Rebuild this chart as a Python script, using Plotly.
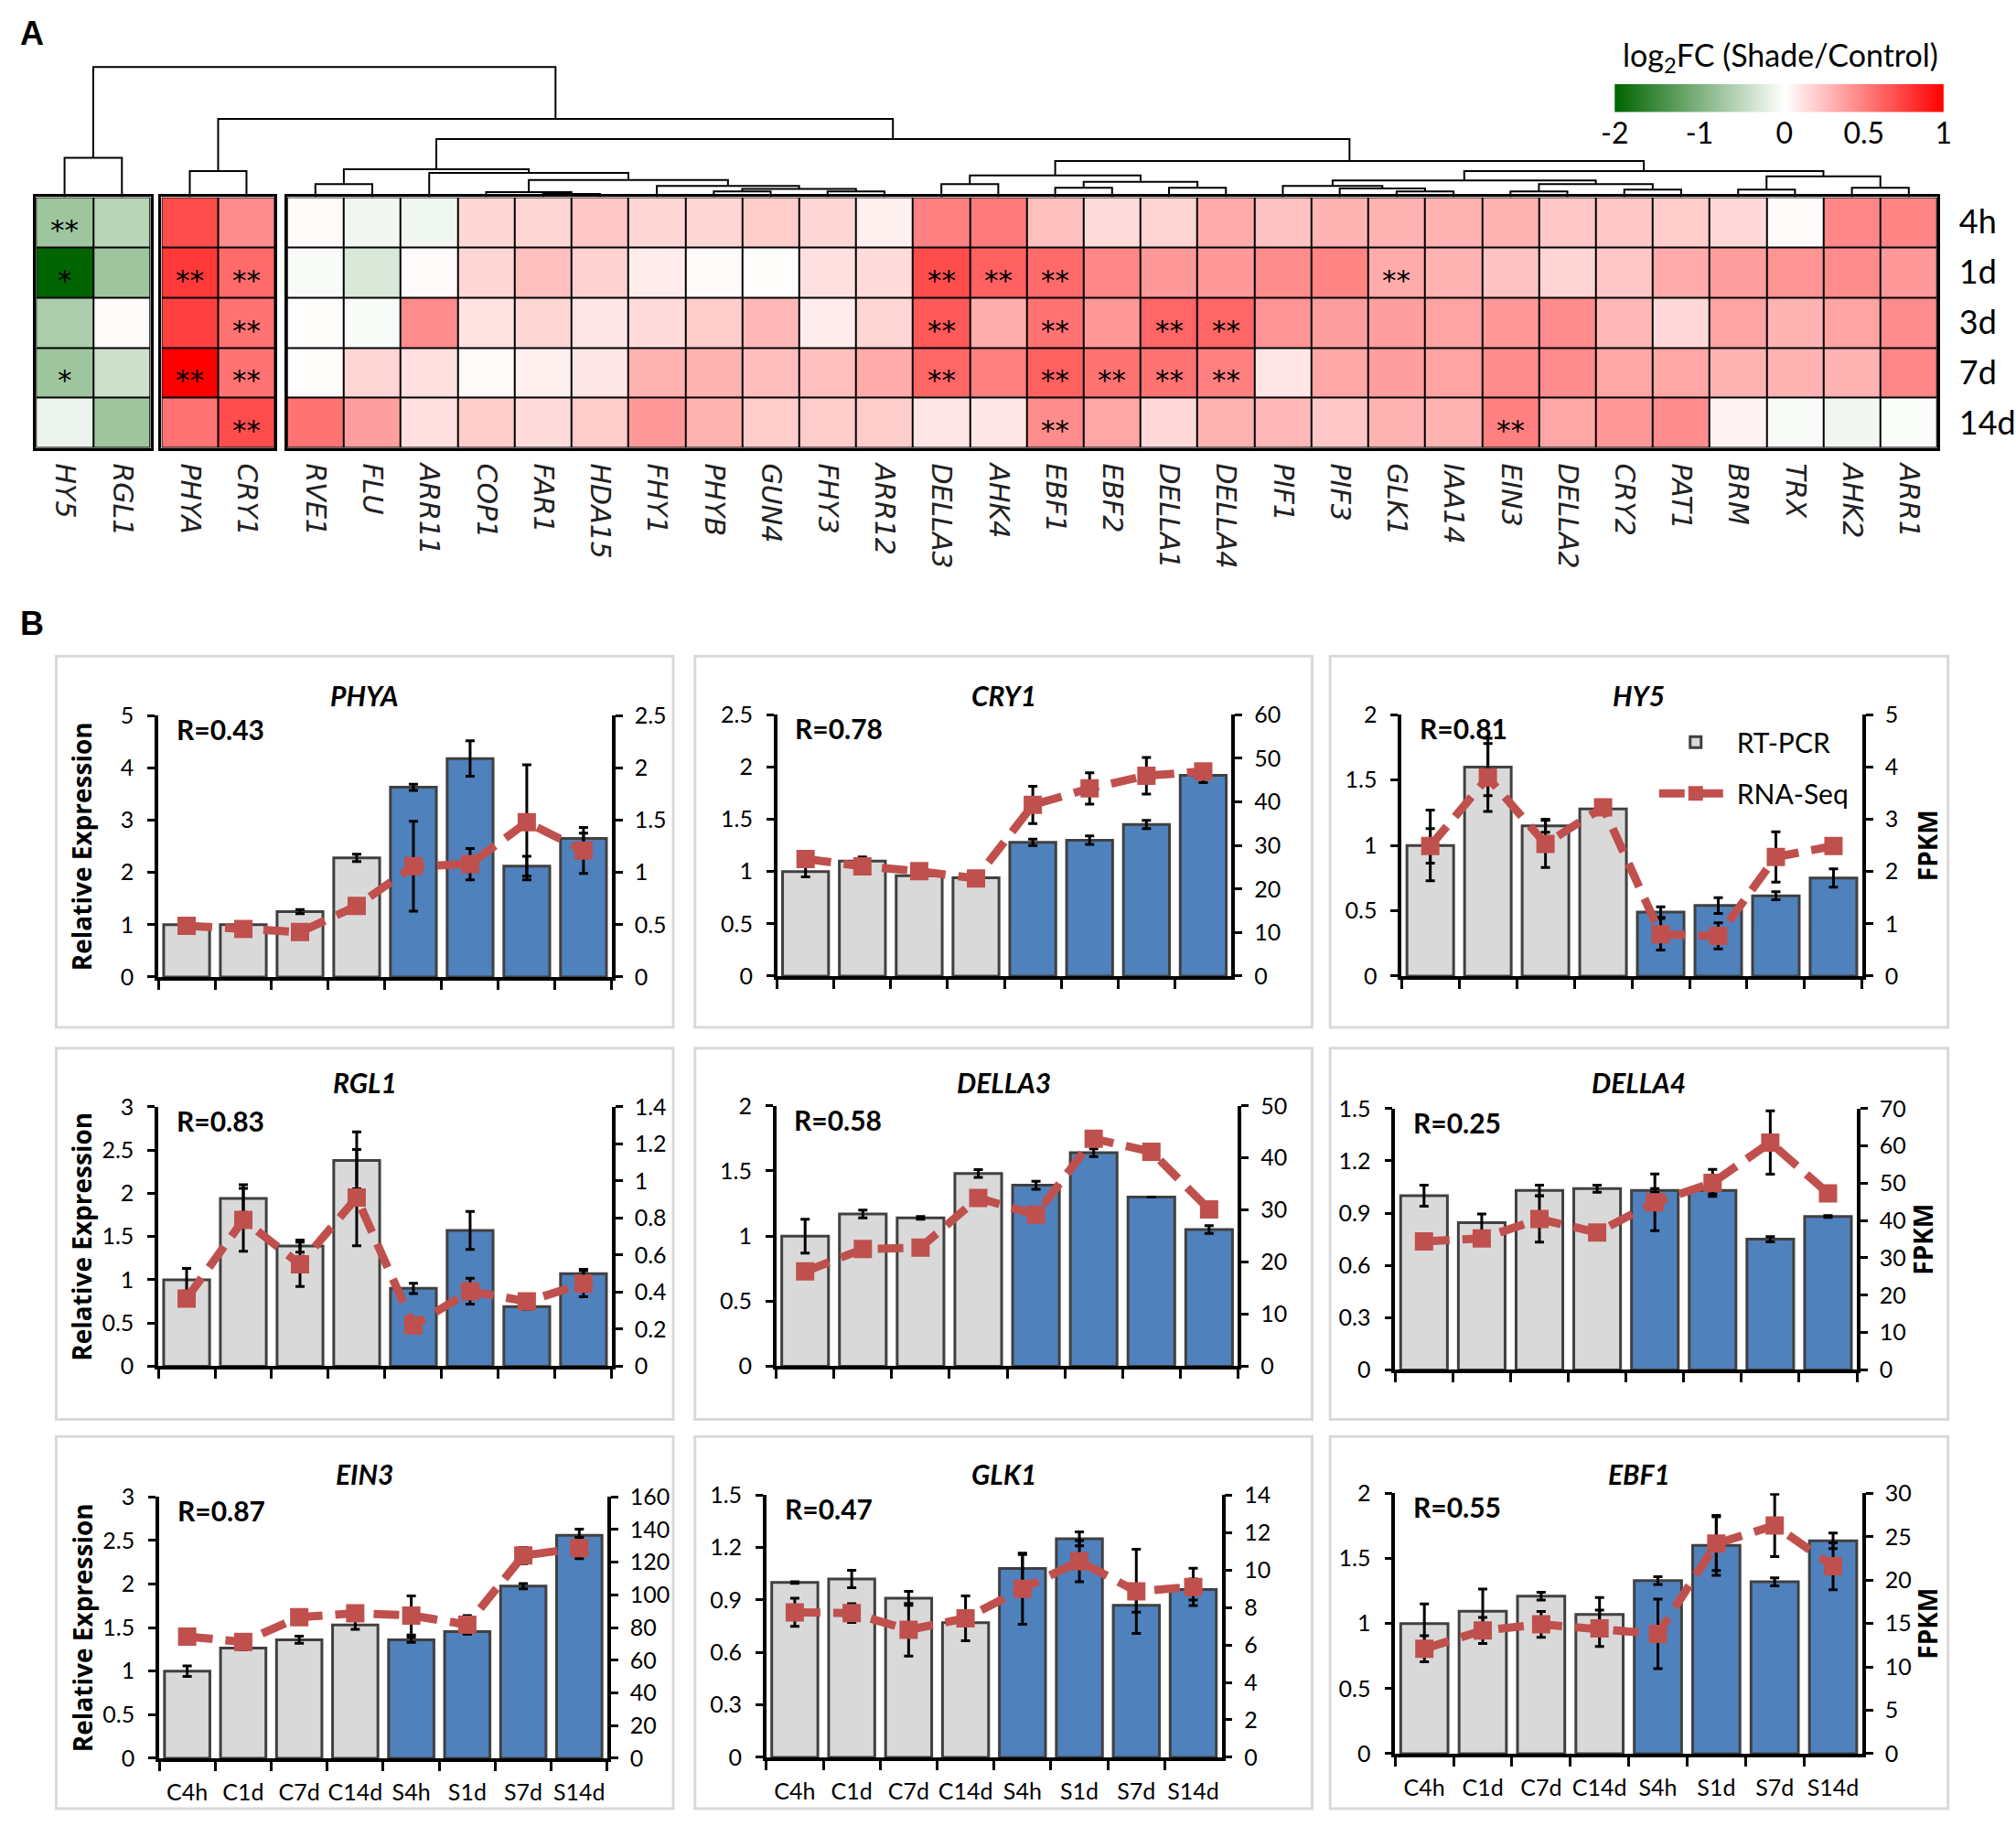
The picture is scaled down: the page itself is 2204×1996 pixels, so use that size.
import numpy as np
import plotly.graph_objects as go

W, H = 2204, 1996
def fx(p): return p / W
def fy(p): return 1 - p / H

# ---------------- Panel A data ----------------
genes = ["HY5", "RGL1", "PHYA", "CRY1", "RVE1", "FLU", "ARR11", "COP1", "FAR1", "HDA15", "FHY1",
         "PHYB", "GUN4", "FHY3", "ARR12", "DELLA3", "AHK4", "EBF1", "EBF2", "DELLA1", "DELLA4",
         "PIF1", "PIF3", "GLK1", "IAA14", "EIN3", "DELLA2", "CRY2", "PAT1", "BRM", "TRX", "AHK2", "ARR1"]
times = ["4h", "1d", "3d", "7d", "14d"]
block_sizes = [2, 2, 29]

lfc_4h = [-0.75, -0.55, 0.70, 0.45, 0.02, -0.10, -0.12, 0.16, 0.16, 0.22, 0.16, 0.16, 0.20, 0.16, 0.06,
          0.50, 0.52, 0.25, 0.14, 0.17, 0.33, 0.24, 0.30, 0.30, 0.30, 0.30, 0.22, 0.22, 0.20, 0.15, 0.02, 0.47, 0.48]
lfc_1d = [-2.00, -0.75, 0.78, 0.58, -0.05, -0.30, 0.02, 0.16, 0.25, 0.18, 0.07, 0.02, 0.01, 0.12, 0.14,
          0.70, 0.62, 0.58, 0.47, 0.40, 0.40, 0.45, 0.48, 0.33, 0.30, 0.24, 0.17, 0.22, 0.33, 0.38, 0.42, 0.45, 0.40]
lfc_3d = [-0.65, 0.02, 0.75, 0.55, 0.01, -0.05, 0.45, 0.11, 0.16, 0.10, 0.14, 0.20, 0.28, 0.07, 0.16,
          0.65, 0.32, 0.55, 0.40, 0.60, 0.60, 0.42, 0.38, 0.38, 0.36, 0.40, 0.45, 0.28, 0.15, 0.36, 0.30, 0.36, 0.45]
lfc_7d = [-0.75, -0.40, 1.00, 0.55, 0.01, 0.16, 0.12, 0.02, 0.06, 0.10, 0.30, 0.30, 0.26, 0.25, 0.33,
          0.60, 0.50, 0.62, 0.55, 0.55, 0.50, 0.10, 0.35, 0.38, 0.36, 0.45, 0.45, 0.35, 0.35, 0.30, 0.30, 0.30, 0.47]
lfc_14d = [-0.15, -0.75, 0.55, 0.70, 0.55, 0.38, 0.12, 0.20, 0.14, 0.20, 0.40, 0.30, 0.20, 0.20, 0.20,
           0.10, 0.10, 0.45, 0.35, 0.15, 0.30, 0.28, 0.22, 0.30, 0.30, 0.50, 0.35, 0.40, 0.45, 0.05, -0.05, -0.10, -0.03]

sig_marks = {
    "4h": {"HY5": "**"},
    "1d": {"HY5": "*", "PHYA": "**", "CRY1": "**", "DELLA3": "**", "AHK4": "**", "EBF1": "**", "GLK1": "**"},
    "3d": {"CRY1": "**", "DELLA3": "**", "EBF1": "**", "DELLA1": "**", "DELLA4": "**"},
    "7d": {"HY5": "*", "PHYA": "**", "CRY1": "**", "DELLA3": "**", "EBF1": "**", "EBF2": "**",
           "DELLA1": "**", "DELLA4": "**"},
    "14d": {"CRY1": "**", "EBF1": "**", "EIN3": "**"},
}

# dendrogram merges: (node, left child, right child, height)
dendro_merges = [
    ("n_hr", "HY5", "RGL1", 43.5),
    ("n_pc", "PHYA", "CRY1", 28.9),
    ("n_rf", "RVE1", "FLU", 14.3),
    ("n_fh", "FAR1", "HDA15", 3.5),
    ("n_cfh", "COP1", "n_fh", 5.5),
    ("n_pg", "PHYB", "GUN4", 6.4),
    ("n_fa", "FHY3", "ARR12", 6.4),
    ("n_pgfa", "n_pg", "n_fa", 9.1),
    ("n_f1", "FHY1", "n_pgfa", 12.3),
    ("n_cf", "n_cfh", "n_f1", 19.0),
    ("n_a11", "ARR11", "n_cf", 26.9),
    ("n_left", "n_rf", "n_a11", 30.9),
    ("n_da", "DELLA3", "AHK4", 14.3),
    ("n_ee", "EBF1", "EBF2", 10.3),
    ("n_dd", "DELLA1", "DELLA4", 10.3),
    ("n_eedd", "n_ee", "n_dd", 17.0),
    ("n_dael", "n_da", "n_eedd", 24.1),
    ("n_gi", "GLK1", "IAA14", 6.4),
    ("n_p3", "PIF3", "n_gi", 9.5),
    ("n_p1", "PIF1", "n_p3", 12.3),
    ("n_ed", "EIN3", "DELLA2", 6.4),
    ("n_cp", "CRY2", "PAT1", 8.3),
    ("n_edcp", "n_ed", "n_cp", 14.3),
    ("n_pifs", "n_p1", "n_edcp", 18.6),
    ("n_bt", "BRM", "TRX", 8.3),
    ("n_aa", "AHK2", "ARR1", 10.3),
    ("n_btaa", "n_bt", "n_aa", 23.0),
    ("n_rest", "n_pifs", "n_btaa", 28.9),
    ("n_right", "n_dael", "n_rest", 40.0),
    ("n_b3", "n_left", "n_right", 64.5),
    ("n_23", "n_pc", "n_b3", 86.7),
    ("n_root", "n_hr", "n_23", 144.5),
]

cbar_ticks = [-2, -1, 0, 0.5, 1]

# ---------------- Panel B data ----------------
samples = ["C4h", "C1d", "C7d", "C14d", "S4h", "S1d", "S7d", "S14d"]

phya_rt = [1.0, 1.0, 1.25, 2.28, 3.63, 4.18, 2.12, 2.65]
phya_rt_err = [0.02, 0.05, 0.04, 0.07, 0.06, 0.34, 0.19, 0.10]
phya_seq = [0.49, 0.46, 0.43, 0.68, 1.06, 1.08, 1.48, 1.21]
phya_seq_err = [0.02, 0.03, 0.02, 0.02, 0.43, 0.15, 0.55, 0.22]

cry1_rt = [1.0, 1.10, 0.96, 0.94, 1.28, 1.30, 1.45, 1.92]
cry1_rt_err = [0.05, 0.04, 0.0, 0.0, 0.03, 0.04, 0.04, 0.07]
cry1_seq = [26.9, 25.2, 24.1, 22.4, 39.3, 43.1, 46.0, 47.0]
cry1_seq_err = [0.8, 1.0, 0.5, 0.5, 4.3, 3.6, 4.2, 1.0]

hy5_rt = [1.0, 1.60, 1.15, 1.28, 0.49, 0.54, 0.615, 0.75]
hy5_rt_err = [0.27, 0.22, 0.05, 0.02, 0.04, 0.06, 0.03, 0.07]
hy5_seq = [2.49, 3.80, 2.53, 3.23, 0.80, 0.77, 2.28, 2.49]
hy5_seq_err = [0.33, 0.65, 0.45, 0.10, 0.30, 0.25, 0.48, 0.12]

rgl1_rt = [1.0, 1.94, 1.39, 2.38, 0.90, 1.57, 0.69, 1.07]
rgl1_rt_err = [0.13, 0.16, 0.07, 0.33, 0.06, 0.22, 0.03, 0.05]
rgl1_seq = [0.365, 0.79, 0.55, 0.91, 0.22, 0.405, 0.35, 0.445]
rgl1_seq_err = [0.02, 0.17, 0.12, 0.26, 0.0, 0.07, 0.02, 0.07]

della3_rt = [1.0, 1.17, 1.14, 1.48, 1.39, 1.64, 1.30, 1.05]
della3_rt_err = [0.13, 0.03, 0.01, 0.03, 0.03, 0.03, 0.0, 0.03]
della3_seq = [18.2, 22.5, 22.8, 32.3, 29.1, 43.7, 41.2, 30.1]
della3_seq_err = [0, 0, 0, 0, 0, 0, 0, 0]

della4_rt = [1.0, 0.845, 1.03, 1.04, 1.03, 1.03, 0.75, 0.88]
della4_rt_err = [0.06, 0.05, 0.03, 0.02, 0.01, 0.02, 0.015, 0.005]
della4_seq = [34.4, 35.2, 40.4, 36.8, 44.9, 50.1, 60.9, 47.3]
della4_seq_err = [0.5, 0.5, 6.2, 0.0, 7.6, 3.6, 8.5, 0.0]

ein3_rt = [1.0, 1.265, 1.36, 1.53, 1.36, 1.455, 1.975, 2.56]
ein3_rt_err = [0.06, 0.02, 0.04, 0.05, 0.03, 0.03, 0.03, 0.07]
ein3_seq = [74.5, 71.2, 86.4, 88.8, 87.4, 81.8, 124.1, 128.7]
ein3_seq_err = [0.5, 1.5, 1.0, 1.0, 12.0, 5.5, 5.0, 6.5]

glk1_rt = [1.0, 1.02, 0.91, 0.77, 1.08, 1.25, 0.87, 0.96]
glk1_rt_err = [0.005, 0.05, 0.04, 0.0, 0.08, 0.04, 0.04, 0.06]
glk1_seq = [7.74, 7.70, 6.81, 7.42, 9.0, 10.47, 8.86, 9.1]
glk1_seq_err = [0.75, 0.5, 1.4, 1.2, 1.9, 1.1, 2.25, 1.0]

ebf1_rt = [1.0, 1.095, 1.21, 1.07, 1.33, 1.60, 1.32, 1.635]
ebf1_rt_err = [0.15, 0.17, 0.03, 0.13, 0.03, 0.23, 0.03, 0.06]
ebf1_seq = [12.1, 14.2, 14.9, 14.45, 13.8, 24.2, 26.3, 21.6]
ebf1_seq_err = [1.5, 1.5, 1.5, 2.1, 4.0, 3.1, 3.6, 2.7]

panel_genes = ["PHYA", "CRY1", "HY5", "RGL1", "DELLA3", "DELLA4", "EIN3", "GLK1", "EBF1"]
panel_r = ["R=0.43", "R=0.78", "R=0.81", "R=0.83", "R=0.58", "R=0.25", "R=0.87", "R=0.47", "R=0.55"]
left_axis = [(5, 1), (2.5, 0.5), (2, 0.5), (3, 0.5), (2, 0.5), (1.5, 0.3), (3, 0.5), (1.5, 0.3), (2, 0.5)]
right_axis = [(2.5, 0.5), (60, 10), (5, 1), (1.4, 0.2), (50, 10), (70, 10), (160, 20), (14, 2), (30, 5)]
panel_data = [
    (phya_rt, phya_rt_err, phya_seq, phya_seq_err),
    (cry1_rt, cry1_rt_err, cry1_seq, cry1_seq_err),
    (hy5_rt, hy5_rt_err, hy5_seq, hy5_seq_err),
    (rgl1_rt, rgl1_rt_err, rgl1_seq, rgl1_seq_err),
    (della3_rt, della3_rt_err, della3_seq, della3_seq_err),
    (della4_rt, della4_rt_err, della4_seq, della4_seq_err),
    (ein3_rt, ein3_rt_err, ein3_seq, ein3_seq_err),
    (glk1_rt, glk1_rt_err, glk1_seq, glk1_seq_err),
    (ebf1_rt, ebf1_rt_err, ebf1_seq, ebf1_seq_err),
]

# ---------------- styles / layout geometry ----------------
GREEN, WHITE, RED = "rgb(0,100,0)", "rgb(255,255,255)", "rgb(255,0,0)"
cscale = [[0, GREEN], [2 / 3, WHITE], [1, RED]]
CAL = "Lato, 'Liberation Sans', sans-serif"
SEG = "'Open Sans', 'Noto Sans', sans-serif"
GRAY, BLUE, EDGE, LINE_RED = "#d9d9d9", "#4f81bd", "#404040", "#c0504d"

heat_top, heat_bot = 202.5, 481.0
block_px = [(24.5, 151.5), (163.5, 289.0), (302.4, 2129.0)]

fig = go.Figure()
layout = dict(width=W, height=H, margin=dict(l=0, r=0, t=0, b=0, pad=0), paper_bgcolor="white",
              plot_bgcolor="white", bargap=0.19, showlegend=True, hovermode=False)
shapes, annotations = [], []

def paper_text(text, x, y, font, xanchor="center", yanchor="middle", **kw):
    d = dict(text=text, x=fx(x), y=fy(y), xref="paper", yref="paper", xanchor=xanchor,
             yanchor=yanchor, showarrow=False, font=font)
    d.update(kw)
    return d

z_rows = [lfc_4h, lfc_1d, lfc_3d, lfc_7d, lfc_14d]
leaf_x = {}
start = 0
for b, (n, (x0, x1)) in enumerate(zip(block_sizes, block_px)):
    k = b + 1
    sfx = "" if k == 1 else str(k)
    sub_genes = genes[start:start + n]
    sub_z = [row[start:start + n] for row in z_rows]
    cw = (x1 - x0) / n
    for j, g in enumerate(sub_genes):
        leaf_x[g] = x0 + (j + 0.5) * cw
    fig.add_trace(go.Heatmap(z=sub_z, x=list(range(n)), y=list(range(5)), colorscale=cscale,
                             zmin=-2, zmax=1, showscale=False, xgap=2, ygap=2,
                             xaxis="x" + sfx, yaxis="y" + sfx, hoverinfo="skip"))
    shapes.append(dict(type="rect", xref="x" + sfx, yref="y" + sfx, x0=-0.5, x1=n - 0.5, y0=-0.5, y1=4.5,
                       fillcolor="black", line=dict(width=0), layer="below"))
    layout["xaxis" + sfx] = dict(domain=[fx(x0), fx(x1)], range=[-0.5, n - 0.5], anchor="y" + sfx,
                                 tickmode="array", tickvals=list(range(n)),
                                 ticktext=[f"<i>{g}</i>" for g in sub_genes], tickangle=90,
                                 tickfont=dict(family="DejaVu Sans", size=30, color="#222"),
                                 showline=True, mirror=True, linecolor="black", linewidth=2.5,
                                 ticks="", showgrid=False, zeroline=False, ticklabelstandoff=8)
    ydict = dict(domain=[fy(heat_bot), fy(heat_top)], range=[4.5, -0.5], anchor="x" + sfx,
                 showline=True, mirror=True, linecolor="black", linewidth=2.5, showgrid=False,
                 zeroline=False, ticks="")
    if k == 3:
        ydict.update(side="right", tickmode="array", tickvals=list(range(5)), ticktext=times,
                     tickfont=dict(family=CAL, size=36, color="black"), showticklabels=True,
                     ticklabelstandoff=14)
    else:
        ydict.update(showticklabels=False)
    layout["yaxis" + sfx] = ydict
    for r, t in enumerate(times):
        for j, g in enumerate(sub_genes):
            m = sig_marks[t].get(g, "")
            if m:
                annotations.append(dict(text=m, x=j, y=r, xref="x" + sfx, yref="y" + sfx,
                                        xanchor="center", yanchor="middle",
                                        showarrow=False, yshift=-8,
                                        font=dict(family="DejaVu Sans", size=31, color="black")))
    start += n

# dendrogram
node_x = dict(leaf_x)
node_h = {g: 0.0 for g in genes}
dx, dy = [], []
for node, a, c, h in dendro_merges:
    xa, xc = node_x[a], node_x[c]
    dx += [xa, xa, xc, xc, None]
    dy += [node_h[a], h, h, node_h[c], None]
    node_x[node] = (xa + xc) / 2
    node_h[node] = h
fig.add_trace(go.Scatter(x=dx, y=dy, mode="lines", line=dict(color="black", width=2),
                         xaxis="x4", yaxis="y4", showlegend=False, hoverinfo="skip"))
layout["xaxis4"] = dict(domain=[fx(block_px[0][0]), fx(block_px[2][1])],
                        range=[block_px[0][0], block_px[2][1]], anchor="y4", visible=False)
layout["yaxis4"] = dict(domain=[fy(heat_top), fy(50)], range=[0, heat_top - 50], anchor="x4", visible=False)

# colour key
ZERO_POS = 0.516
def val_to_pos(v):
    return ZERO_POS * (v + 2) / 2 if v < 0 else ZERO_POS + (1 - ZERO_POS) * v
pos = np.linspace(0, 1, 301)
vals = np.where(pos < ZERO_POS, -2 + 2 * pos / ZERO_POS, (pos - ZERO_POS) / (1 - ZERO_POS))
fig.add_trace(go.Heatmap(z=[vals.tolist()], x=pos.tolist(), y=[0], colorscale=cscale, zmin=-2, zmax=1,
                         showscale=False, xaxis="x5", yaxis="y5", hoverinfo="skip"))
layout["xaxis5"] = dict(domain=[fx(1772), fx(2136)], range=[0, 1], anchor="y5", tickmode="array",
                        tickvals=[val_to_pos(v) for v in cbar_ticks], ticktext=[str(v) for v in cbar_ticks],
                        tickfont=dict(family=CAL, size=32, color="black"), ticks="", showline=False,
                        showgrid=False, zeroline=False, ticklabelstandoff=2)
layout["yaxis5"] = dict(domain=[fy(108), fy(77)], range=[-0.5, 0.5], anchor="x5", visible=False)
annotations.append(paper_text("log<sub>2</sub>FC (Shade/Control)", 1955, 47,
                              dict(family=CAL, size=34, color="black")))

# panel letters
annotations.append(paper_text("<b>A</b>", 5, 21, dict(family="Liberation Sans", size=36, color="black"),
                              xanchor="left"))
annotations.append(paper_text("<b>B</b>", 5, 676, dict(family="Liberation Sans", size=36, color="black"),
                              xanchor="left"))

# ---------------- Panel B ----------------
panel_px = [(160, 662, 778, 1068), (845, 1348, 777, 1067), (1536, 2046, 777, 1067),
            (160, 662, 1212, 1500), (844, 1355, 1211, 1500), (1529, 2040, 1214, 1504),
            (161, 657, 1645, 1935), (833, 1337, 1643, 1934), (1529, 2046, 1641, 1930)]
frame_cols = [(47, 730), (754, 1437), (1457, 2141)]
frame_rows = [(712, 1124), (1147, 1559), (1578, 1991)]
title_y = [755, 1185, 1619]
bar_colors = [GRAY] * 4 + [BLUE] * 4

for i, gene in enumerate(panel_genes):
    row, col = divmod(i, 3)
    xl, xr, yt, yb = panel_px[i]
    xa, yl, yr = 6 + i, 6 + 2 * i, 7 + 2 * i
    rt, rt_err, seq, seq_err = panel_data[i]
    fig.add_trace(go.Bar(x=samples, y=rt, name="RT-PCR", legendgroup="rt", showlegend=(gene == "HY5"),
                         marker=dict(color=bar_colors, line=dict(color=EDGE, width=3)),
                         error_y=dict(type="data", array=rt_err, color="black", thickness=3, width=5),
                         xaxis=f"x{xa}", yaxis=f"y{yl}", hoverinfo="skip"))
    fig.add_trace(go.Scatter(x=samples, y=seq, name="RNA-Seq", legendgroup="seq", showlegend=(gene == "HY5"),
                             mode="lines+markers", line=dict(color=LINE_RED, width=9, dash="28px,14px"),
                             marker=dict(symbol="square", size=20, color=LINE_RED),
                             error_y=dict(type="data", array=seq_err, color="black", thickness=3, width=5),
                             xaxis=f"x{xa}", yaxis=f"y{yr}", hoverinfo="skip"))
    axis_common = dict(showline=True, linecolor="black", linewidth=3.5, ticks="outside", tickwidth=3,
                       tickcolor="black", showgrid=False, zeroline=False,
                       tickfont=dict(family=CAL, size=25, color="black"))
    layout[f"xaxis{xa}"] = dict(domain=[fx(xl), fx(xr)], anchor=f"y{yl}", type="category",
                                categoryorder="array", categoryarray=samples, range=[-0.5, 7.5],
                                tickson="boundaries", ticklen=10, showticklabels=(row == 2),
                                tickangle=0, ticklabelstandoff=12, **axis_common)
    lmax, ldt = left_axis[i]
    rmax, rdt = right_axis[i]
    layout[f"yaxis{yl}"] = dict(domain=[fy(yb), fy(yt)], anchor=f"x{xa}", range=[0, lmax], dtick=ldt,
                                tick0=0, ticklen=8, ticklabelstandoff=10, **axis_common)
    layout[f"yaxis{yr}"] = dict(overlaying=f"y{yl}", side="right", anchor=f"x{xa}", range=[0, rmax],
                                dtick=rdt, tick0=0, ticklen=8, ticklabelstandoff=8, **axis_common)
    fl, fr = frame_cols[col]
    ft, fb = frame_rows[row]
    shapes.append(dict(type="rect", xref="paper", yref="paper", x0=fx(fl), x1=fx(fr), y0=fy(fb), y1=fy(ft),
                       line=dict(color="#d9d9d9", width=3), fillcolor="rgba(0,0,0,0)", layer="below"))
    annotations.append(paper_text(f"<b><i>{gene}</i></b>", (fl + fr) / 2, title_y[row],
                                  dict(family=CAL, size=30, color="black")))
    annotations.append(paper_text(f"<b>{panel_r[i]}</b>", xl + 18, yt + 15,
                                  dict(family=CAL, size=30, color="black"), xanchor="left"))
    if col == 0:
        annotations.append(paper_text("<b>Relative Expression</b>", xl - 85, (yt + yb) / 2,
                                      dict(family=SEG, size=28, color="black"), textangle=-90))
    if col == 2:
        annotations.append(paper_text("<b>FPKM</b>", xr + 72, (yt + yb) / 2,
                                      dict(family=SEG, size=28, color="black"), textangle=-90))

layout["legend"] = dict(x=fx(1816), y=fy(781), xanchor="left", yanchor="top", bgcolor="rgba(0,0,0,0)",
                        font=dict(family=CAL, size=30, color="black"), tracegroupgap=14,
                        traceorder="grouped", itemwidth=80)
layout["shapes"] = shapes
layout["annotations"] = annotations
fig.update_layout(**layout)
fig.write_html("out.html", config={"displayModeBar": False},
               post_script="document.body.style.margin='0';document.body.style.padding='0';"
                           "document.documentElement.style.overflow='hidden';")
